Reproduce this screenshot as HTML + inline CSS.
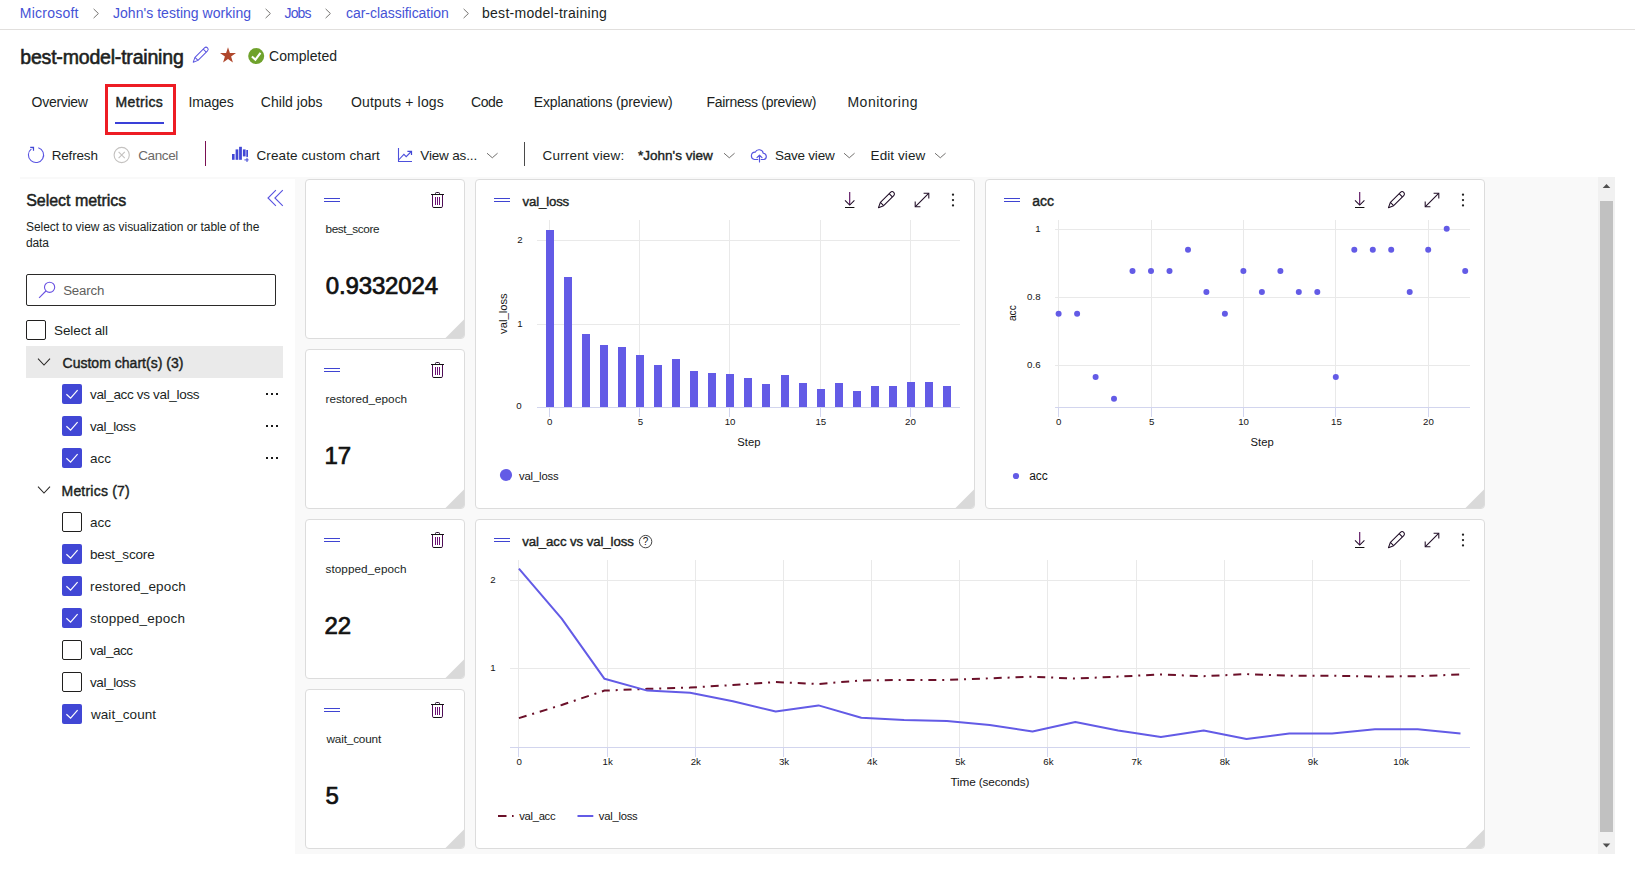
<!DOCTYPE html>
<html lang="en"><head><meta charset="utf-8"><title>best-model-training - Metrics</title>
<style>
html,body{margin:0;padding:0;background:#fff;}
body{width:1635px;height:871px;position:relative;overflow:hidden;font-family:"Liberation Sans", sans-serif;color:#201f1e;}
.a{position:absolute;display:block;}
.t{white-space:pre;line-height:1;}
.card{background:#fff;border:1px solid #dcdcdc;border-radius:4px;box-sizing:border-box;}
</style></head><body>
<nav aria-label="Breadcrumb">
<svg class="a" style="left:91.7px;top:7.5px" width="8" height="11" viewBox="0 0 8 11"><path d="M1.6 0.9 L6.4 5.5 L1.6 10.1" fill="none" stroke="#767472" stroke-width="1"/></svg>
<svg class="a" style="left:264.2px;top:7.5px" width="8" height="11" viewBox="0 0 8 11"><path d="M1.6 0.9 L6.4 5.5 L1.6 10.1" fill="none" stroke="#767472" stroke-width="1"/></svg>
<svg class="a" style="left:324.2px;top:7.5px" width="8" height="11" viewBox="0 0 8 11"><path d="M1.6 0.9 L6.4 5.5 L1.6 10.1" fill="none" stroke="#767472" stroke-width="1"/></svg>
<svg class="a" style="left:461.7px;top:7.5px" width="8" height="11" viewBox="0 0 8 11"><path d="M1.6 0.9 L6.4 5.5 L1.6 10.1" fill="none" stroke="#767472" stroke-width="1"/></svg>
<div class="a" style="left:0;top:29px;width:1635px;height:1px;background:#e1dfdd"></div>
<div class="a t" style="font-size:14px;color:#4552d6;letter-spacing:0.238px;left:19.80px;top:6.00px;">Microsoft</div>
<div class="a t" style="font-size:14px;color:#4552d6;letter-spacing:0.037px;left:113.00px;top:6.00px;">John's testing working</div>
<div class="a t" style="font-size:14px;color:#4552d6;letter-spacing:-0.891px;left:284.60px;top:6.00px;">Jobs</div>
<div class="a t" style="font-size:14px;color:#4552d6;letter-spacing:-0.041px;left:346.00px;top:6.00px;">car-classification</div>
<div class="a t" style="font-size:14px;color:#201f1e;letter-spacing:0.275px;left:482.00px;top:6.00px;">best-model-training</div>
</nav>
<header>
<svg class="a" style="left:190px;top:45px" width="20" height="20" viewBox="0 0 20 20" fill="none" stroke="#5a55e0" stroke-width="1.1" stroke-linejoin="round">
<g transform="translate(10.4 10) rotate(45) scale(0.89)"><path d="M-2.4 6.2 L-2.4 -8.9 A2.4 2.4 0 0 1 2.4 -8.9 L2.4 6.2 L0 11.4 Z"/><path d="M-2.4 6.2 H2.4"/><path d="M-2.4 -6.9 H2.4"/></g></svg>
<svg class="a" style="left:219px;top:46px" width="18" height="18" viewBox="0 0 18 18"><path d="M9 1.2 L10.9 7 L17 7 L12.1 10.6 L13.9 16.5 L9 12.9 L4.1 16.5 L5.9 10.6 L1 7 L7.1 7 Z" fill="#b0472c"/></svg>
<svg class="a" style="left:248px;top:48px" width="17" height="17" viewBox="0 0 17 17"><circle cx="8.2" cy="8.1" r="8" fill="#6fa22c"/><path d="M3.9 8.5 L7.4 11.7 L12.5 4.9" fill="none" stroke="#fff" stroke-width="2.1"/></svg>
<div class="a t" style="font-size:19.5px;color:#201f1e;-webkit-text-stroke:0.58px #201f1e;letter-spacing:-0.191px;left:20.29px;top:48.00px;">best-model-training</div>
<div class="a t" style="font-size:14px;color:#201f1e;letter-spacing:0.023px;left:269.10px;top:49.00px;">Completed</div>
</header>
<div role="tablist">
<div class="a" style="left:115px;top:122px;width:49px;height:2px;background:#3a40d8"></div>
<div class="a" style="left:105px;top:84px;width:71px;height:51px;border:3px solid #ed1c24;box-sizing:border-box"></div>
<div class="a t" style="font-size:14px;color:#201f1e;letter-spacing:-0.291px;left:31.60px;top:95.00px;">Overview</div>
<div class="a t" style="font-size:14px;color:#201f1e;-webkit-text-stroke:0.42px #201f1e;letter-spacing:0.362px;left:115.51px;top:95.00px;">Metrics</div>
<div class="a t" style="font-size:14px;color:#201f1e;letter-spacing:-0.162px;left:188.60px;top:95.00px;">Images</div>
<div class="a t" style="font-size:14px;color:#201f1e;letter-spacing:0.025px;left:260.80px;top:95.00px;">Child jobs</div>
<div class="a t" style="font-size:14px;color:#201f1e;letter-spacing:0.164px;left:351.00px;top:95.00px;">Outputs + logs</div>
<div class="a t" style="font-size:14px;color:#201f1e;letter-spacing:-0.394px;left:471.00px;top:95.00px;">Code</div>
<div class="a t" style="font-size:14px;color:#201f1e;letter-spacing:-0.131px;left:533.70px;top:95.00px;">Explanations (preview)</div>
<div class="a t" style="font-size:14px;color:#201f1e;letter-spacing:-0.304px;left:706.50px;top:95.00px;">Fairness (preview)</div>
<div class="a t" style="font-size:14px;color:#201f1e;letter-spacing:0.525px;left:847.40px;top:95.00px;">Monitoring</div>
</div>
<div role="toolbar">
<svg class="a" style="left:26px;top:145px" width="20" height="20" viewBox="0 0 20 20" fill="none" stroke="#5a55e2" stroke-width="1.1">
<path d="M12.3 2.7 A7.6 7.6 0 1 1 5.4 3.9"/><path d="M4.2 2.3 H7.5 V5.7" stroke="#4147d5" stroke-width="1.2"/><path d="M5.6 2.3 H7.5 V4.2 Z" fill="#4147d5" stroke="none"/></svg>
<svg class="a" style="left:113px;top:146px" width="18" height="18" viewBox="0 0 18 18" fill="none" stroke="#c4c2c0" stroke-width="1.1"><circle cx="8.7" cy="9" r="7.6"/><path d="M5.6 5.9 L11.8 12.1 M11.8 5.9 L5.6 12.1"/></svg>
<div class="a" style="left:205px;top:141px;width:1px;height:25px;background:#7a1052"></div>
<svg class="a" style="left:231px;top:146px" width="19" height="18" viewBox="0 0 19 18" fill="#4147d5">
<rect x="1" y="8" width="2.6" height="5.8"/><rect x="4.6" y="3.4" width="2.7" height="10.4"/><rect x="8.1" y="0.8" width="2.8" height="13"/><rect x="11.9" y="3.4" width="2.7" height="7"/><rect x="15.3" y="4" width="1.7" height="6.9"/>
<rect x="15.5" y="11.8" width="1" height="4.2"/><rect x="13.4" y="13.4" width="4.2" height="1"/></svg>
<svg class="a" style="left:396px;top:146px" width="18" height="18" viewBox="0 0 18 18" fill="none" stroke="#4d50dc" stroke-width="1.1">
<path d="M2.5 2 V15.5 H16"/><path d="M2.6 14 L7.9 8.3 L10.2 10.7 L15.3 5.5"/><path d="M11.4 5.4 H15.5 V9" stroke="#4147d5" stroke-width="1.2"/></svg>
<svg class="a" style="left:485.5px;top:151.8px" width="12.6" height="7.2" viewBox="0 0 12.6 7.2"><path d="M1 1.2 L6.3 5.8 L11.6 1.2" fill="none" stroke="#6a6866" stroke-width="0.95"/></svg>
<div class="a" style="left:524px;top:142px;width:1px;height:24px;background:#4a4a4a"></div>
<svg class="a" style="left:722.7px;top:151.8px" width="12.6" height="7.2" viewBox="0 0 12.6 7.2"><path d="M1 1.2 L6.3 5.8 L11.6 1.2" fill="none" stroke="#6a6866" stroke-width="0.95"/></svg>
<svg class="a" style="left:750px;top:146px" width="19" height="18" viewBox="0 0 19 18" fill="none" stroke="#5553e0" stroke-width="1.15" stroke-linecap="round" stroke-linejoin="round">
<path d="M7.8 13.5 H4.5 A3.7 3.7 0 0 1 5.2 6.15 A4.3 4.3 0 0 1 13.3 7.3 A3.15 3.15 0 0 1 13.9 13.5 H11.1"/><path d="M9.5 16 V9.3 M7 11.7 L9.5 9.2 L12 11.7"/></svg>
<svg class="a" style="left:843.2px;top:151.8px" width="12.6" height="7.2" viewBox="0 0 12.6 7.2"><path d="M1 1.2 L6.3 5.8 L11.6 1.2" fill="none" stroke="#6a6866" stroke-width="0.95"/></svg>
<svg class="a" style="left:933.7px;top:151.8px" width="12.6" height="7.2" viewBox="0 0 12.6 7.2"><path d="M1 1.2 L6.3 5.8 L11.6 1.2" fill="none" stroke="#6a6866" stroke-width="0.95"/></svg>
<div class="a t" style="font-size:13.5px;color:#201f1e;letter-spacing:-0.177px;left:51.70px;top:149.00px;">Refresh</div>
<div class="a t" style="font-size:13.5px;color:#6b6967;letter-spacing:-0.385px;left:138.20px;top:149.00px;">Cancel</div>
<div class="a t" style="font-size:13.5px;color:#201f1e;letter-spacing:0.100px;left:256.50px;top:149.00px;">Create custom chart</div>
<div class="a t" style="font-size:13.5px;color:#201f1e;letter-spacing:-0.159px;left:420.30px;top:149.00px;">View as...</div>
<div class="a t" style="font-size:13.5px;color:#201f1e;letter-spacing:0.169px;left:542.60px;top:149.00px;">Current view:</div>
<div class="a t" style="font-size:13.5px;color:#201f1e;-webkit-text-stroke:0.4px #201f1e;letter-spacing:-0.006px;left:638.10px;top:149.00px;">*John's view</div>
<div class="a t" style="font-size:13.5px;color:#201f1e;letter-spacing:-0.235px;left:775.00px;top:149.00px;">Save view</div>
<div class="a t" style="font-size:13.5px;color:#201f1e;letter-spacing:0.079px;left:870.60px;top:149.00px;">Edit view</div>
</div>
<div class="workspace">
<div class="a" style="left:20px;top:177px;width:1595px;height:677px;background:#f9f9f9"></div>
<div class="a" style="left:20px;top:179px;width:275px;height:675px;background:#fff"></div>
<div class="a" style="left:1598px;top:177px;width:17px;height:677px;background:#f1f1f1"></div>
<div class="a" style="left:1600px;top:201px;width:13px;height:631px;background:#c1c1c1"></div>
<svg class="a" style="left:1598px;top:177px" width="17" height="17" viewBox="0 0 17 17"><path d="M4.7 11 L8.5 7 L12.3 11 Z" fill="#505050"/></svg>
<svg class="a" style="left:1598px;top:837px" width="17" height="17" viewBox="0 0 17 17"><path d="M4.7 6.4 L8.5 10.4 L12.3 6.4 Z" fill="#505050"/></svg>
</div>
<aside aria-label="Select metrics">
<svg class="a" style="left:266px;top:188px" width="19" height="19" viewBox="0 0 19 19" fill="none" stroke="#5853e0" stroke-width="1.1"><path d="M9.9 2.2 L2 10 L9.9 17.8"/><path d="M16.8 2.2 L8.9 10 L16.8 17.8"/></svg>
<div class="a" style="left:26px;top:274px;width:250px;height:32px;border:1px solid #2b2a29;border-radius:2px;box-sizing:border-box;background:#fff"></div>
<svg class="a" style="left:38px;top:281px" width="18" height="18" viewBox="0 0 18 18" fill="none" stroke="#6a52e2" stroke-width="1.1"><circle cx="11.6" cy="6.3" r="5.1"/><path d="M7.9 10 L1.1 16.8"/></svg>
<div class="a" style="left:26px;top:320px;width:20px;height:20px;border:1px solid #201f1e;border-radius:2px;box-sizing:border-box;background:#fff"></div>
<div class="a" style="left:26px;top:346px;width:257px;height:32px;background:#eaeaea"></div>
<svg class="a" style="left:37px;top:357.3px" width="14" height="10" viewBox="0 0 14 10"><path d="M1 1.6 L7 8 L13 1.6" fill="none" stroke="#2a2827" stroke-width="1.05"/></svg>
<svg class="a" style="left:62px;top:384px" width="20" height="20" viewBox="0 0 20 20"><rect x="0" y="0" width="20" height="20" rx="2" fill="#4147d5"/><path d="M4.4 10.2 L8.6 14.2 L15.6 6.2" fill="none" stroke="#fff" stroke-width="1.2"/></svg>
<div class="a" style="left:265.6px;top:393px;width:2px;height:2px;background:#1a1a1a"></div>
<div class="a" style="left:271px;top:393px;width:2px;height:2px;background:#1a1a1a"></div>
<div class="a" style="left:276.4px;top:393px;width:2px;height:2px;background:#1a1a1a"></div>
<svg class="a" style="left:62px;top:416px" width="20" height="20" viewBox="0 0 20 20"><rect x="0" y="0" width="20" height="20" rx="2" fill="#4147d5"/><path d="M4.4 10.2 L8.6 14.2 L15.6 6.2" fill="none" stroke="#fff" stroke-width="1.2"/></svg>
<div class="a" style="left:265.6px;top:425px;width:2px;height:2px;background:#1a1a1a"></div>
<div class="a" style="left:271px;top:425px;width:2px;height:2px;background:#1a1a1a"></div>
<div class="a" style="left:276.4px;top:425px;width:2px;height:2px;background:#1a1a1a"></div>
<svg class="a" style="left:62px;top:448px" width="20" height="20" viewBox="0 0 20 20"><rect x="0" y="0" width="20" height="20" rx="2" fill="#4147d5"/><path d="M4.4 10.2 L8.6 14.2 L15.6 6.2" fill="none" stroke="#fff" stroke-width="1.2"/></svg>
<div class="a" style="left:265.6px;top:457px;width:2px;height:2px;background:#1a1a1a"></div>
<div class="a" style="left:271px;top:457px;width:2px;height:2px;background:#1a1a1a"></div>
<div class="a" style="left:276.4px;top:457px;width:2px;height:2px;background:#1a1a1a"></div>
<svg class="a" style="left:37px;top:485.3px" width="14" height="10" viewBox="0 0 14 10"><path d="M1 1.6 L7 8 L13 1.6" fill="none" stroke="#2a2827" stroke-width="1.05"/></svg>
<div class="a" style="left:62px;top:512px;width:20px;height:20px;border:1px solid #201f1e;border-radius:2px;box-sizing:border-box;background:#fff"></div>
<svg class="a" style="left:62px;top:544px" width="20" height="20" viewBox="0 0 20 20"><rect x="0" y="0" width="20" height="20" rx="2" fill="#4147d5"/><path d="M4.4 10.2 L8.6 14.2 L15.6 6.2" fill="none" stroke="#fff" stroke-width="1.2"/></svg>
<svg class="a" style="left:62px;top:576px" width="20" height="20" viewBox="0 0 20 20"><rect x="0" y="0" width="20" height="20" rx="2" fill="#4147d5"/><path d="M4.4 10.2 L8.6 14.2 L15.6 6.2" fill="none" stroke="#fff" stroke-width="1.2"/></svg>
<svg class="a" style="left:62px;top:608px" width="20" height="20" viewBox="0 0 20 20"><rect x="0" y="0" width="20" height="20" rx="2" fill="#4147d5"/><path d="M4.4 10.2 L8.6 14.2 L15.6 6.2" fill="none" stroke="#fff" stroke-width="1.2"/></svg>
<div class="a" style="left:62px;top:640px;width:20px;height:20px;border:1px solid #201f1e;border-radius:2px;box-sizing:border-box;background:#fff"></div>
<div class="a" style="left:62px;top:672px;width:20px;height:20px;border:1px solid #201f1e;border-radius:2px;box-sizing:border-box;background:#fff"></div>
<svg class="a" style="left:62px;top:704px" width="20" height="20" viewBox="0 0 20 20"><rect x="0" y="0" width="20" height="20" rx="2" fill="#4147d5"/><path d="M4.4 10.2 L8.6 14.2 L15.6 6.2" fill="none" stroke="#fff" stroke-width="1.2"/></svg>
<div class="a t" style="font-size:16px;color:#201f1e;-webkit-text-stroke:0.48px #201f1e;letter-spacing:-0.035px;left:26.24px;top:193.00px;">Select metrics</div>
<div class="a t" style="font-size:12px;color:#201f1e;letter-spacing:-0.045px;left:26.00px;top:221.00px;">Select to view as visualization or table of the</div>
<div class="a t" style="font-size:12px;color:#201f1e;letter-spacing:-0.161px;left:26.00px;top:237.00px;">data</div>
<div class="a t" style="font-size:13.25px;color:#605e5c;letter-spacing:-0.163px;left:63.20px;top:284.00px;">Search</div>
<div class="a t" style="font-size:13.5px;color:#201f1e;letter-spacing:-0.087px;left:54.00px;top:324.00px;">Select all</div>
<div class="a t" style="font-size:14px;color:#201f1e;-webkit-text-stroke:0.42px #201f1e;letter-spacing:0.021px;left:62.51px;top:356.00px;">Custom chart(s) (3)</div>
<div class="a t" style="font-size:13.5px;color:#201f1e;letter-spacing:-0.333px;left:90.00px;top:388.00px;">val_acc vs val_loss</div>
<div class="a t" style="font-size:13.5px;color:#201f1e;letter-spacing:-0.403px;left:90.00px;top:420.00px;">val_loss</div>
<div class="a t" style="font-size:13.5px;color:#201f1e;left:90.00px;top:452.00px;">acc</div>
<div class="a t" style="font-size:14px;color:#201f1e;-webkit-text-stroke:0.42px #201f1e;letter-spacing:0.213px;left:61.51px;top:484.00px;">Metrics (7)</div>
<div class="a t" style="font-size:13.5px;color:#201f1e;left:90.00px;top:516.00px;">acc</div>
<div class="a t" style="font-size:13.5px;color:#201f1e;letter-spacing:-0.148px;left:90.00px;top:548.00px;">best_score</div>
<div class="a t" style="font-size:13.5px;color:#201f1e;letter-spacing:0.153px;left:90.00px;top:580.00px;">restored_epoch</div>
<div class="a t" style="font-size:13.5px;color:#201f1e;letter-spacing:0.215px;left:90.00px;top:612.00px;">stopped_epoch</div>
<div class="a t" style="font-size:13.5px;color:#201f1e;letter-spacing:-0.454px;left:90.00px;top:644.00px;">val_acc</div>
<div class="a t" style="font-size:13.5px;color:#201f1e;letter-spacing:-0.403px;left:90.00px;top:676.00px;">val_loss</div>
<div class="a t" style="font-size:13.5px;color:#201f1e;letter-spacing:0.057px;left:91.00px;top:708.00px;">wait_count</div>
</aside>
<section aria-label="Metric values">
<div class="a card" style="left:305px;top:179px;width:160px;height:160px"></div>
<svg class="a" style="left:445px;top:319px" width="19" height="19" viewBox="0 0 19 19"><path d="M19 0.5 L19 16 Q19 19 16 19 L0.5 19 Z" fill="#d9d9d9"/></svg>
<div class="a" style="left:324px;top:198px;width:16px;height:1px;background:#3f44d2"></div>
<div class="a" style="left:324px;top:201px;width:16px;height:1px;background:#3f44d2"></div>
<svg class="a" style="left:430px;top:191px" width="16" height="18" viewBox="0 0 16 18" fill="none">
<path d="M5.5 3.5 V2.4 Q5.5 1.5 6.4 1.5 H8.6 Q9.5 1.5 9.5 2.4 V3.5" stroke="#2a0f30" stroke-width="1"/>
<path d="M2.5 3.5 V15.2 Q2.5 16.5 3.8 16.5 H11.2 Q12.5 16.5 12.5 15.2 V3.5" stroke="#4e0c56" stroke-width="1"/><path d="M3.4 16.5 H11.6" stroke="#111" stroke-width="1"/>
<path d="M1 3.5 H14" stroke="#111" stroke-width="1"/>
<path d="M5.5 6 V14 M7.5 6 V14 M9.5 6 V14" stroke="#6c0f74" stroke-width="1"/></svg>
<div class="a card" style="left:305px;top:349px;width:160px;height:160px"></div>
<svg class="a" style="left:445px;top:489px" width="19" height="19" viewBox="0 0 19 19"><path d="M19 0.5 L19 16 Q19 19 16 19 L0.5 19 Z" fill="#d9d9d9"/></svg>
<div class="a" style="left:324px;top:368px;width:16px;height:1px;background:#3f44d2"></div>
<div class="a" style="left:324px;top:371px;width:16px;height:1px;background:#3f44d2"></div>
<svg class="a" style="left:430px;top:361px" width="16" height="18" viewBox="0 0 16 18" fill="none">
<path d="M5.5 3.5 V2.4 Q5.5 1.5 6.4 1.5 H8.6 Q9.5 1.5 9.5 2.4 V3.5" stroke="#2a0f30" stroke-width="1"/>
<path d="M2.5 3.5 V15.2 Q2.5 16.5 3.8 16.5 H11.2 Q12.5 16.5 12.5 15.2 V3.5" stroke="#4e0c56" stroke-width="1"/><path d="M3.4 16.5 H11.6" stroke="#111" stroke-width="1"/>
<path d="M1 3.5 H14" stroke="#111" stroke-width="1"/>
<path d="M5.5 6 V14 M7.5 6 V14 M9.5 6 V14" stroke="#6c0f74" stroke-width="1"/></svg>
<div class="a card" style="left:305px;top:519px;width:160px;height:160px"></div>
<svg class="a" style="left:445px;top:659px" width="19" height="19" viewBox="0 0 19 19"><path d="M19 0.5 L19 16 Q19 19 16 19 L0.5 19 Z" fill="#d9d9d9"/></svg>
<div class="a" style="left:324px;top:538px;width:16px;height:1px;background:#3f44d2"></div>
<div class="a" style="left:324px;top:541px;width:16px;height:1px;background:#3f44d2"></div>
<svg class="a" style="left:430px;top:531px" width="16" height="18" viewBox="0 0 16 18" fill="none">
<path d="M5.5 3.5 V2.4 Q5.5 1.5 6.4 1.5 H8.6 Q9.5 1.5 9.5 2.4 V3.5" stroke="#2a0f30" stroke-width="1"/>
<path d="M2.5 3.5 V15.2 Q2.5 16.5 3.8 16.5 H11.2 Q12.5 16.5 12.5 15.2 V3.5" stroke="#4e0c56" stroke-width="1"/><path d="M3.4 16.5 H11.6" stroke="#111" stroke-width="1"/>
<path d="M1 3.5 H14" stroke="#111" stroke-width="1"/>
<path d="M5.5 6 V14 M7.5 6 V14 M9.5 6 V14" stroke="#6c0f74" stroke-width="1"/></svg>
<div class="a card" style="left:305px;top:689px;width:160px;height:160px"></div>
<svg class="a" style="left:445px;top:829px" width="19" height="19" viewBox="0 0 19 19"><path d="M19 0.5 L19 16 Q19 19 16 19 L0.5 19 Z" fill="#d9d9d9"/></svg>
<div class="a" style="left:324px;top:708px;width:16px;height:1px;background:#3f44d2"></div>
<div class="a" style="left:324px;top:711px;width:16px;height:1px;background:#3f44d2"></div>
<svg class="a" style="left:430px;top:701px" width="16" height="18" viewBox="0 0 16 18" fill="none">
<path d="M5.5 3.5 V2.4 Q5.5 1.5 6.4 1.5 H8.6 Q9.5 1.5 9.5 2.4 V3.5" stroke="#2a0f30" stroke-width="1"/>
<path d="M2.5 3.5 V15.2 Q2.5 16.5 3.8 16.5 H11.2 Q12.5 16.5 12.5 15.2 V3.5" stroke="#4e0c56" stroke-width="1"/><path d="M3.4 16.5 H11.6" stroke="#111" stroke-width="1"/>
<path d="M1 3.5 H14" stroke="#111" stroke-width="1"/>
<path d="M5.5 6 V14 M7.5 6 V14 M9.5 6 V14" stroke="#6c0f74" stroke-width="1"/></svg>
<div class="a t" style="font-size:11.75px;color:#201f1e;letter-spacing:-0.382px;left:325.50px;top:223.00px;">best_score</div>
<div class="a t" style="font-size:24px;color:#111;-webkit-text-stroke:0.72px #111;letter-spacing:-0.165px;left:325.86px;top:274.00px;">0.9332024</div>
<div class="a t" style="font-size:11.75px;color:#201f1e;letter-spacing:-0.009px;left:325.50px;top:393.00px;">restored_epoch</div>
<div class="a t" style="font-size:24px;color:#111;-webkit-text-stroke:0.72px #111;left:324.50px;top:444.00px;">17</div>
<div class="a t" style="font-size:11.75px;color:#201f1e;letter-spacing:0.056px;left:325.50px;top:563.00px;">stopped_epoch</div>
<div class="a t" style="font-size:24px;color:#111;-webkit-text-stroke:0.72px #111;left:324.50px;top:614.00px;">22</div>
<div class="a t" style="font-size:11.75px;color:#201f1e;letter-spacing:-0.157px;left:326.50px;top:733.00px;">wait_count</div>
<div class="a t" style="font-size:24px;color:#111;-webkit-text-stroke:0.72px #111;left:325.50px;top:784.00px;">5</div>
</section>
<section aria-label="val_loss chart">
<div class="a card" style="left:475px;top:179px;width:500px;height:330px"></div>
<svg class="a" style="left:955px;top:489px" width="19" height="19" viewBox="0 0 19 19"><path d="M19 0.5 L19 16 Q19 19 16 19 L0.5 19 Z" fill="#d9d9d9"/></svg>
<div class="a" style="left:494px;top:198px;width:16px;height:1px;background:#3f44d2"></div>
<div class="a" style="left:494px;top:201px;width:16px;height:1px;background:#3f44d2"></div>
<svg class="a" style="left:840.0px;top:188px" width="120" height="24" viewBox="0 0 120 24" fill="none" stroke-width="1.05">
<path d="M9.7 4 V17" stroke="#5b1060" stroke-width="1.15"/><path d="M5 12.3 L9.7 17 L14.4 12.3" stroke="#1f0c26"/><path d="M5 19.5 H14.4" stroke="#111"/>
<g stroke="#1f0c26" stroke-linejoin="round" transform="translate(46.1 12) rotate(45)"><path d="M-2.3 5.8 L-2.3 -8.5 A2.3 2.3 0 0 1 2.3 -8.5 L2.3 5.8 L0 10.8 Z"/><path d="M-2.3 5.8 H2.3"/><path d="M-2.3 -6.6 H2.3"/></g>
<g stroke="#1f0c26"><path d="M75.4 18.6 L88.6 5.4"/><path d="M83.6 5.2 H88.8 V10.4"/><path d="M75.2 13.6 V18.8 H80.4"/></g>
<g fill="#222" stroke="none"><circle cx="113" cy="6.7" r="1.15"/><circle cx="113" cy="12.1" r="1.15"/><circle cx="113" cy="17.4" r="1.15"/></g></svg>
<svg class="a" style="left:475px;top:179px" width="500" height="330" viewBox="475 179 500 330"><rect x="549" y="220" width="1" height="187" fill="#e9e9e9"/><rect x="549" y="408" width="1" height="9" fill="#d2d5ee"/><rect x="639" y="220" width="1" height="187" fill="#e9e9e9"/><rect x="639" y="408" width="1" height="9" fill="#d2d5ee"/><rect x="729" y="220" width="1" height="187" fill="#e9e9e9"/><rect x="729" y="408" width="1" height="9" fill="#d2d5ee"/><rect x="820" y="220" width="1" height="187" fill="#e9e9e9"/><rect x="820" y="408" width="1" height="9" fill="#d2d5ee"/><rect x="910" y="220" width="1" height="187" fill="#e9e9e9"/><rect x="910" y="408" width="1" height="9" fill="#d2d5ee"/><rect x="537" y="240" width="423" height="1" fill="#e9e9e9"/><rect x="537" y="324" width="423" height="1" fill="#e9e9e9"/><rect x="546" y="230" width="8" height="177" fill="#635be6"/><rect x="564" y="277" width="8" height="130" fill="#635be6"/><rect x="582" y="334" width="8" height="73" fill="#635be6"/><rect x="600" y="345" width="8" height="62" fill="#635be6"/><rect x="618" y="347" width="8" height="60" fill="#635be6"/><rect x="636" y="355" width="8" height="52" fill="#635be6"/><rect x="654" y="365" width="8" height="42" fill="#635be6"/><rect x="672" y="359" width="8" height="48" fill="#635be6"/><rect x="690" y="371" width="8" height="36" fill="#635be6"/><rect x="708" y="373" width="8" height="34" fill="#635be6"/><rect x="726" y="374" width="8" height="33" fill="#635be6"/><rect x="744" y="378" width="8" height="29" fill="#635be6"/><rect x="762" y="384" width="8" height="23" fill="#635be6"/><rect x="781" y="375" width="8" height="32" fill="#635be6"/><rect x="799" y="383" width="8" height="24" fill="#635be6"/><rect x="817" y="389" width="8" height="18" fill="#635be6"/><rect x="835" y="383" width="8" height="24" fill="#635be6"/><rect x="853" y="391" width="8" height="16" fill="#635be6"/><rect x="871" y="386" width="8" height="21" fill="#635be6"/><rect x="889" y="386" width="8" height="21" fill="#635be6"/><rect x="907" y="382" width="8" height="25" fill="#635be6"/><rect x="925" y="382" width="8" height="25" fill="#635be6"/><rect x="943" y="386" width="8" height="21" fill="#635be6"/><rect x="537" y="407" width="423" height="1" fill="#d2d5ee"/><circle cx="506" cy="475" r="6.1" fill="#635be6"/></svg>
<div class="a t" style="font-size:13.25px;color:#201f1e;-webkit-text-stroke:0.4px #201f1e;letter-spacing:-0.178px;left:522.60px;top:195.00px;">val_loss</div>
<div class="a t" style="font-size:9.7px;color:#151515;left:547.00px;top:417.00px;">0</div>
<div class="a t" style="font-size:9.7px;color:#151515;left:637.70px;top:417.00px;">5</div>
<div class="a t" style="font-size:9.7px;color:#151515;left:724.71px;top:417.00px;">10</div>
<div class="a t" style="font-size:9.7px;color:#151515;left:815.41px;top:417.00px;">15</div>
<div class="a t" style="font-size:9.7px;color:#151515;left:905.11px;top:417.00px;">20</div>
<div class="a t" style="font-size:9.7px;color:#151515;left:517.30px;top:235.00px;">2</div>
<div class="a t" style="font-size:9.7px;color:#151515;left:517.30px;top:319.00px;">1</div>
<div class="a t" style="font-size:9.7px;color:#151515;left:516.30px;top:401.00px;">0</div>
<div class="a t" style="font-size:11.25px;color:#151515;letter-spacing:0.038px;left:737.20px;top:437.00px;">Step</div>
<div class="a t" style="font-size:11.25px;color:#151515;left:483.17px;top:308.38px;transform:rotate(-90deg);transform-origin:50% 50%;">val_loss</div>
<div class="a t" style="font-size:11.25px;color:#151515;letter-spacing:-0.146px;left:519.00px;top:471.00px;">val_loss</div>
</section>
<section aria-label="acc chart">
<div class="a card" style="left:985px;top:179px;width:500px;height:330px"></div>
<svg class="a" style="left:1465px;top:489px" width="19" height="19" viewBox="0 0 19 19"><path d="M19 0.5 L19 16 Q19 19 16 19 L0.5 19 Z" fill="#d9d9d9"/></svg>
<div class="a" style="left:1004px;top:198px;width:16px;height:1px;background:#3f44d2"></div>
<div class="a" style="left:1004px;top:201px;width:16px;height:1px;background:#3f44d2"></div>
<svg class="a" style="left:1350.0px;top:188px" width="120" height="24" viewBox="0 0 120 24" fill="none" stroke-width="1.05">
<path d="M9.7 4 V17" stroke="#5b1060" stroke-width="1.15"/><path d="M5 12.3 L9.7 17 L14.4 12.3" stroke="#1f0c26"/><path d="M5 19.5 H14.4" stroke="#111"/>
<g stroke="#1f0c26" stroke-linejoin="round" transform="translate(46.1 12) rotate(45)"><path d="M-2.3 5.8 L-2.3 -8.5 A2.3 2.3 0 0 1 2.3 -8.5 L2.3 5.8 L0 10.8 Z"/><path d="M-2.3 5.8 H2.3"/><path d="M-2.3 -6.6 H2.3"/></g>
<g stroke="#1f0c26"><path d="M75.4 18.6 L88.6 5.4"/><path d="M83.6 5.2 H88.8 V10.4"/><path d="M75.2 13.6 V18.8 H80.4"/></g>
<g fill="#222" stroke="none"><circle cx="113" cy="6.7" r="1.15"/><circle cx="113" cy="12.1" r="1.15"/><circle cx="113" cy="17.4" r="1.15"/></g></svg>
<svg class="a" style="left:985px;top:179px" width="500" height="330" viewBox="985 179 500 330"><rect x="1058" y="220" width="1" height="187" fill="#e9e9e9"/><rect x="1058" y="408" width="1" height="9" fill="#d2d5ee"/><rect x="1151" y="220" width="1" height="187" fill="#e9e9e9"/><rect x="1151" y="408" width="1" height="9" fill="#d2d5ee"/><rect x="1243" y="220" width="1" height="187" fill="#e9e9e9"/><rect x="1243" y="408" width="1" height="9" fill="#d2d5ee"/><rect x="1335" y="220" width="1" height="187" fill="#e9e9e9"/><rect x="1335" y="408" width="1" height="9" fill="#d2d5ee"/><rect x="1428" y="220" width="1" height="187" fill="#e9e9e9"/><rect x="1428" y="408" width="1" height="9" fill="#d2d5ee"/><rect x="1055" y="229" width="415" height="1" fill="#e9e9e9"/><rect x="1055" y="297" width="415" height="1" fill="#e9e9e9"/><rect x="1055" y="365" width="415" height="1" fill="#e9e9e9"/><rect x="1055" y="407" width="415" height="1" fill="#d2d5ee"/><circle cx="1058.6" cy="313.8" r="3" fill="#635be6"/><circle cx="1077.1" cy="313.8" r="3" fill="#635be6"/><circle cx="1095.6" cy="376.9" r="3" fill="#635be6"/><circle cx="1114.0" cy="398.7" r="3" fill="#635be6"/><circle cx="1132.5" cy="271" r="3" fill="#635be6"/><circle cx="1151.0" cy="271" r="3" fill="#635be6"/><circle cx="1169.5" cy="271" r="3" fill="#635be6"/><circle cx="1188.0" cy="249.8" r="3" fill="#635be6"/><circle cx="1206.4" cy="292" r="3" fill="#635be6"/><circle cx="1224.9" cy="313.8" r="3" fill="#635be6"/><circle cx="1243.4" cy="271" r="3" fill="#635be6"/><circle cx="1261.9" cy="292" r="3" fill="#635be6"/><circle cx="1280.4" cy="271" r="3" fill="#635be6"/><circle cx="1298.8" cy="292" r="3" fill="#635be6"/><circle cx="1317.3" cy="292" r="3" fill="#635be6"/><circle cx="1335.8" cy="376.9" r="3" fill="#635be6"/><circle cx="1354.3" cy="249.8" r="3" fill="#635be6"/><circle cx="1372.8" cy="249.8" r="3" fill="#635be6"/><circle cx="1391.2" cy="249.8" r="3" fill="#635be6"/><circle cx="1409.7" cy="292" r="3" fill="#635be6"/><circle cx="1428.2" cy="249.8" r="3" fill="#635be6"/><circle cx="1446.7" cy="228.8" r="3" fill="#635be6"/><circle cx="1465.2" cy="271" r="3" fill="#635be6"/><circle cx="1016" cy="476" r="3.1" fill="#635be6"/></svg>
<div class="a t" style="font-size:14px;color:#201f1e;-webkit-text-stroke:0.42px #201f1e;left:1032.21px;top:194.00px;">acc</div>
<div class="a t" style="font-size:9.7px;color:#151515;left:1056.10px;top:417.00px;">0</div>
<div class="a t" style="font-size:9.7px;color:#151515;left:1149.00px;top:417.00px;">5</div>
<div class="a t" style="font-size:9.7px;color:#151515;left:1238.21px;top:417.00px;">10</div>
<div class="a t" style="font-size:9.7px;color:#151515;left:1331.11px;top:417.00px;">15</div>
<div class="a t" style="font-size:9.7px;color:#151515;left:1423.01px;top:417.00px;">20</div>
<div class="a t" style="font-size:9.7px;color:#151515;left:1035.20px;top:224.00px;">1</div>
<div class="a t" style="font-size:9.7px;color:#151515;left:1027.12px;top:292.00px;">0.8</div>
<div class="a t" style="font-size:9.7px;color:#151515;left:1027.12px;top:360.00px;">0.6</div>
<div class="a t" style="font-size:11.25px;color:#151515;letter-spacing:0.038px;left:1250.50px;top:437.00px;">Step</div>
<div class="a t" style="font-size:10.25px;color:#151515;left:1005.22px;top:308.38px;transform:rotate(-90deg);transform-origin:50% 50%;">acc</div>
<div class="a t" style="font-size:12px;color:#151515;left:1029.20px;top:470.00px;">acc</div>
</section>
<section aria-label="val_acc vs val_loss chart">
<div class="a card" style="left:475px;top:519px;width:1010px;height:330px"></div>
<svg class="a" style="left:1465px;top:829px" width="19" height="19" viewBox="0 0 19 19"><path d="M19 0.5 L19 16 Q19 19 16 19 L0.5 19 Z" fill="#d9d9d9"/></svg>
<div class="a" style="left:494px;top:538px;width:16px;height:1px;background:#3f44d2"></div>
<div class="a" style="left:494px;top:541px;width:16px;height:1px;background:#3f44d2"></div>
<svg class="a" style="left:638px;top:534px" width="15" height="15" viewBox="0 0 15 15"><circle cx="7.6" cy="7.6" r="6.2" fill="none" stroke="#444" stroke-width="1"/></svg>
<svg class="a" style="left:1350.0px;top:528px" width="120" height="24" viewBox="0 0 120 24" fill="none" stroke-width="1.05">
<path d="M9.7 4 V17" stroke="#5b1060" stroke-width="1.15"/><path d="M5 12.3 L9.7 17 L14.4 12.3" stroke="#1f0c26"/><path d="M5 19.5 H14.4" stroke="#111"/>
<g stroke="#1f0c26" stroke-linejoin="round" transform="translate(46.1 12) rotate(45)"><path d="M-2.3 5.8 L-2.3 -8.5 A2.3 2.3 0 0 1 2.3 -8.5 L2.3 5.8 L0 10.8 Z"/><path d="M-2.3 5.8 H2.3"/><path d="M-2.3 -6.6 H2.3"/></g>
<g stroke="#1f0c26"><path d="M75.4 18.6 L88.6 5.4"/><path d="M83.6 5.2 H88.8 V10.4"/><path d="M75.2 13.6 V18.8 H80.4"/></g>
<g fill="#222" stroke="none"><circle cx="113" cy="6.7" r="1.15"/><circle cx="113" cy="12.1" r="1.15"/><circle cx="113" cy="17.4" r="1.15"/></g></svg>
<svg class="a" style="left:475px;top:519px" width="1010" height="330" viewBox="475 519 1010 330"><rect x="518" y="560" width="1" height="187" fill="#e9e9e9"/><rect x="518" y="748" width="1" height="9" fill="#d2d5ee"/><rect x="607" y="560" width="1" height="187" fill="#e9e9e9"/><rect x="607" y="748" width="1" height="9" fill="#d2d5ee"/><rect x="695" y="560" width="1" height="187" fill="#e9e9e9"/><rect x="695" y="748" width="1" height="9" fill="#d2d5ee"/><rect x="783" y="560" width="1" height="187" fill="#e9e9e9"/><rect x="783" y="748" width="1" height="9" fill="#d2d5ee"/><rect x="871" y="560" width="1" height="187" fill="#e9e9e9"/><rect x="871" y="748" width="1" height="9" fill="#d2d5ee"/><rect x="959" y="560" width="1" height="187" fill="#e9e9e9"/><rect x="959" y="748" width="1" height="9" fill="#d2d5ee"/><rect x="1047" y="560" width="1" height="187" fill="#e9e9e9"/><rect x="1047" y="748" width="1" height="9" fill="#d2d5ee"/><rect x="1136" y="560" width="1" height="187" fill="#e9e9e9"/><rect x="1136" y="748" width="1" height="9" fill="#d2d5ee"/><rect x="1224" y="560" width="1" height="187" fill="#e9e9e9"/><rect x="1224" y="748" width="1" height="9" fill="#d2d5ee"/><rect x="1312" y="560" width="1" height="187" fill="#e9e9e9"/><rect x="1312" y="748" width="1" height="9" fill="#d2d5ee"/><rect x="1400" y="560" width="1" height="187" fill="#e9e9e9"/><rect x="1400" y="748" width="1" height="9" fill="#d2d5ee"/><rect x="510" y="580" width="960" height="1" fill="#e9e9e9"/><rect x="510" y="668" width="960" height="1" fill="#e9e9e9"/><rect x="510" y="747" width="960" height="1" fill="#d2d5ee"/><polyline points="518.9,718.1 561.7,705.0 604.5,690.6 647.3,688.8 690.1,687.6 732.9,685.0 775.7,682.0 818.5,684.0 861.3,680.4 904.1,680.0 946.9,680.0 989.7,678.3 1032.5,676.7 1075.3,678.6 1118.1,676.6 1160.9,674.5 1203.7,676.2 1246.5,674.1 1289.3,675.7 1332.1,675.7 1374.9,676.6 1417.7,676.2 1460.5,674.5" fill="none" stroke="#6b1029" stroke-width="2" stroke-dasharray="8 5.9 2 5.9"/><polyline points="518.9,568.6 561.7,618.7 604.5,678.8 647.3,690.6 690.1,692.7 732.9,701.2 775.7,711.5 818.5,705.4 861.3,717.8 904.1,719.9 946.9,720.9 989.7,725.1 1032.5,731.4 1075.3,722.0 1118.1,730.6 1160.9,736.9 1203.7,730.6 1246.5,739.0 1289.3,733.5 1332.1,733.5 1374.9,729.3 1417.7,729.3 1460.5,733.5" fill="none" stroke="#635be6" stroke-width="2" stroke-linejoin="round"/><rect x="498" y="815" width="8.5" height="2" fill="#6b1029"/><rect x="512" y="815" width="1.6" height="2" fill="#6b1029"/><rect x="577.5" y="815" width="15.8" height="2" fill="#635be6"/></svg>
<div class="a t" style="font-size:13.25px;color:#201f1e;-webkit-text-stroke:0.4px #201f1e;letter-spacing:-0.099px;left:522.20px;top:535.00px;">val_acc vs val_loss</div>
<div class="a t" style="font-size:10px;color:#151515;left:642.80px;top:537.00px;">?</div>
<div class="a t" style="font-size:9.7px;color:#151515;left:516.60px;top:757.00px;">0</div>
<div class="a t" style="font-size:9.7px;color:#151515;left:602.57px;top:757.00px;">1k</div>
<div class="a t" style="font-size:9.7px;color:#151515;left:690.73px;top:757.00px;">2k</div>
<div class="a t" style="font-size:9.7px;color:#151515;left:778.89px;top:757.00px;">3k</div>
<div class="a t" style="font-size:9.7px;color:#151515;left:867.05px;top:757.00px;">4k</div>
<div class="a t" style="font-size:9.7px;color:#151515;left:955.21px;top:757.00px;">5k</div>
<div class="a t" style="font-size:9.7px;color:#151515;left:1043.37px;top:757.00px;">6k</div>
<div class="a t" style="font-size:9.7px;color:#151515;left:1131.53px;top:757.00px;">7k</div>
<div class="a t" style="font-size:9.7px;color:#151515;left:1219.69px;top:757.00px;">8k</div>
<div class="a t" style="font-size:9.7px;color:#151515;left:1307.85px;top:757.00px;">9k</div>
<div class="a t" style="font-size:9.7px;color:#151515;left:1393.31px;top:757.00px;">10k</div>
<div class="a t" style="font-size:9.7px;color:#151515;left:490.20px;top:575.00px;">2</div>
<div class="a t" style="font-size:9.7px;color:#151515;left:490.20px;top:663.00px;">1</div>
<div class="a t" style="font-size:11.75px;color:#151515;letter-spacing:-0.124px;left:950.50px;top:776.00px;">Time (seconds)</div>
<div class="a t" style="font-size:11.25px;color:#151515;letter-spacing:-0.320px;left:519.30px;top:811.00px;">val_acc</div>
<div class="a t" style="font-size:11.25px;color:#151515;letter-spacing:-0.246px;left:598.80px;top:811.00px;">val_loss</div>
</section>
</body></html>
